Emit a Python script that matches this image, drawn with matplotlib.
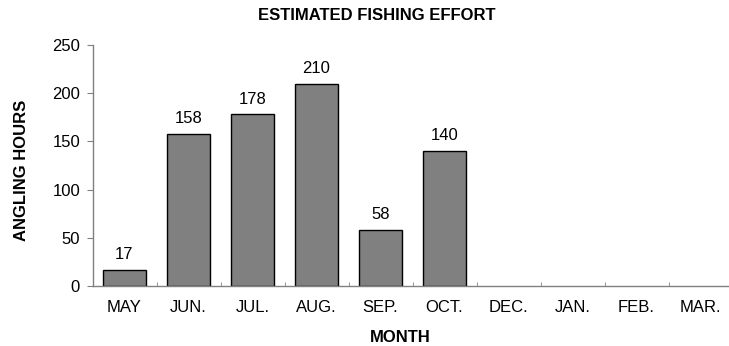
import numpy as np
import matplotlib.pyplot as plt

plt.rcParams['font.family'] = ['Liberation Sans', 'DejaVu Sans']

# Monthly angling effort
months = ['MAY', 'JUN.', 'JUL.', 'AUG.', 'SEP.', 'OCT.', 'DEC.', 'JAN.', 'FEB.', 'MAR.']
hours = [17, 158, 178, 210, 58, 140, 0, 0, 0, 0]
yticks = [0, 50, 100, 150, 200, 250]

fig = plt.figure(figsize=(7.29, 3.46), dpi=100)
ax = fig.add_axes([92.5 / 729, 1 - 286 / 346, 640 / 729, (286 - 45) / 346])

x = np.arange(len(months))
# empty months get no outline
edge_w = [1 if h > 0 else 0 for h in hours]
ax.bar(x, hours, width=0.68, color='#808080', edgecolor='black', linewidth=edge_w)

# value labels only for months with effort
for xi, h in zip(x, hours):
    if h > 0:
        ax.text(xi, h + 8, str(h), ha='center', va='bottom', fontsize=12)

ax.set_xlim(-0.5, len(months) - 0.5)
ax.set_ylim(0, 250)
ax.set_yticks(yticks)
ax.set_xticks(x)
ax.set_xticklabels(months, fontsize=12)
ax.tick_params(axis='y', labelsize=12, length=4, color='#808080', direction='out', pad=5)
ax.tick_params(axis='x', which='major', length=0, pad=10)

# category boundary ticks pointing up
ax.set_xticks(np.arange(0.5, len(months) - 0.5, 1), minor=True)
ax.tick_params(axis='x', which='minor', length=3, direction='in', color='#808080')

for side in ['top', 'right']:
    ax.spines[side].set_visible(False)
for side in ['left', 'bottom']:
    ax.spines[side].set_color('#808080')
    ax.spines[side].set_linewidth(1)

fig.text(377 / 729, 1 - 15 / 346, 'ESTIMATED FISHING EFFORT',
         ha='center', va='center', fontsize=12, fontweight='bold')
fig.text(22 / 729, 1 - 170 / 346, 'ANGLING HOURS', rotation=90,
         ha='center', va='center', fontsize=12, fontweight='bold')
fig.text(400 / 729, 1 - 337 / 346, 'MONTH',
         ha='center', va='center', fontsize=12, fontweight='bold')

fig.savefig('out.png', dpi=100)
